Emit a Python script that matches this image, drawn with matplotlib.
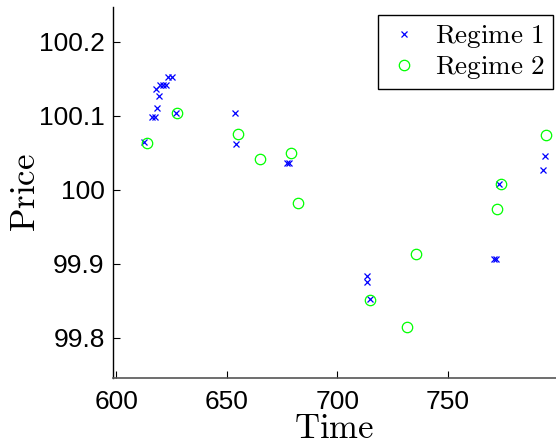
import matplotlib
matplotlib.use("Agg")
import matplotlib.pyplot as plt

plt.rcParams['mathtext.fontset'] = 'cm'

# Regime 1 (blue x)
r1_time = [612.7, 616.3, 617.5, 618.3, 619.5, 618.0, 619.8, 621.1, 622.8, 623.5, 625.1,
           627.3, 653.8, 654.3, 677.5, 678.2, 713.6, 713.6, 714.8, 771.0, 771.8,
           773.3, 794.0, 792.9]
r1_price = [100.0644, 100.0981, 100.0981, 100.110, 100.127, 100.136, 100.142, 100.142, 100.142,
            100.152, 100.152, 100.1035, 100.1035, 100.062, 100.0355, 100.0355, 99.883, 99.876,
            99.8525, 99.907, 99.907, 100.0077, 100.046, 100.027]

# Regime 2 (green o)
r2_time = [614.0, 627.5, 655.1, 665.3, 679.0, 682.1, 735.6, 714.8, 731.7, 774.0, 772.1, 794.3]
r2_price = [100.0634, 100.1035, 100.0756, 100.042, 100.050, 99.982, 99.9136, 99.8516,
            99.8147, 100.0077, 99.974, 100.0733]

xticks = [600, 650, 700, 750]
yticks = [99.8, 99.9, 100.0, 100.1, 100.2]
ytick_labels = ['99.8', '99.9', '100', '100.1', '100.2']

fig = plt.figure(figsize=(5.56, 4.40), dpi=100)
ax = fig.add_axes([0.2032, 0.1416, 0.7968, 0.8425])

ax.plot(r1_time, r1_price, linestyle='none', marker='x', color='#0000ff',
        markersize=5, markeredgewidth=0.9, label=r'$\mathrm{Regime\ 1}$')
ax.plot(r2_time, r2_price, linestyle='none', marker='o', markerfacecolor='none',
        markeredgecolor='#00ff00', markersize=7.5, markeredgewidth=0.9,
        label=r'$\mathrm{Regime\ 2}$')

ax.set_xlim(598.6, 799)
ax.set_ylim(99.7464, 100.2467)
ax.set_xticks(xticks)
ax.set_yticks(yticks)
ax.set_yticklabels(ytick_labels)

for lab in ax.get_xticklabels() + ax.get_yticklabels():
    lab.set_family('Liberation Sans')
    lab.set_fontsize(19)

ax.tick_params(axis='both', direction='in', length=5, width=0.8)
ax.tick_params(axis='x', pad=9)
ax.tick_params(axis='y', pad=6)
ax.spines['top'].set_visible(False)
ax.spines['right'].set_visible(False)
ax.spines['left'].set_color('black')
ax.spines['bottom'].set_color('#555555')
ax.spines['left'].set_linewidth(1.0)
ax.spines['bottom'].set_linewidth(1.2)

ax.set_xlabel(r'$\mathrm{Time}$', fontsize=25, labelpad=-2.5)
ax.set_ylabel(r'$\mathrm{Price}$', fontsize=25, labelpad=-2)

leg = ax.legend(loc='upper right', bbox_to_anchor=(0.993, 0.978), fontsize=19.5,
                fancybox=False, edgecolor='black', framealpha=1, borderpad=0.3,
                borderaxespad=0, handletextpad=0.5, labelspacing=0.15,
                handlelength=1.3)
leg.get_frame().set_linewidth(1.0)

fig.savefig('out.png', dpi=100)
